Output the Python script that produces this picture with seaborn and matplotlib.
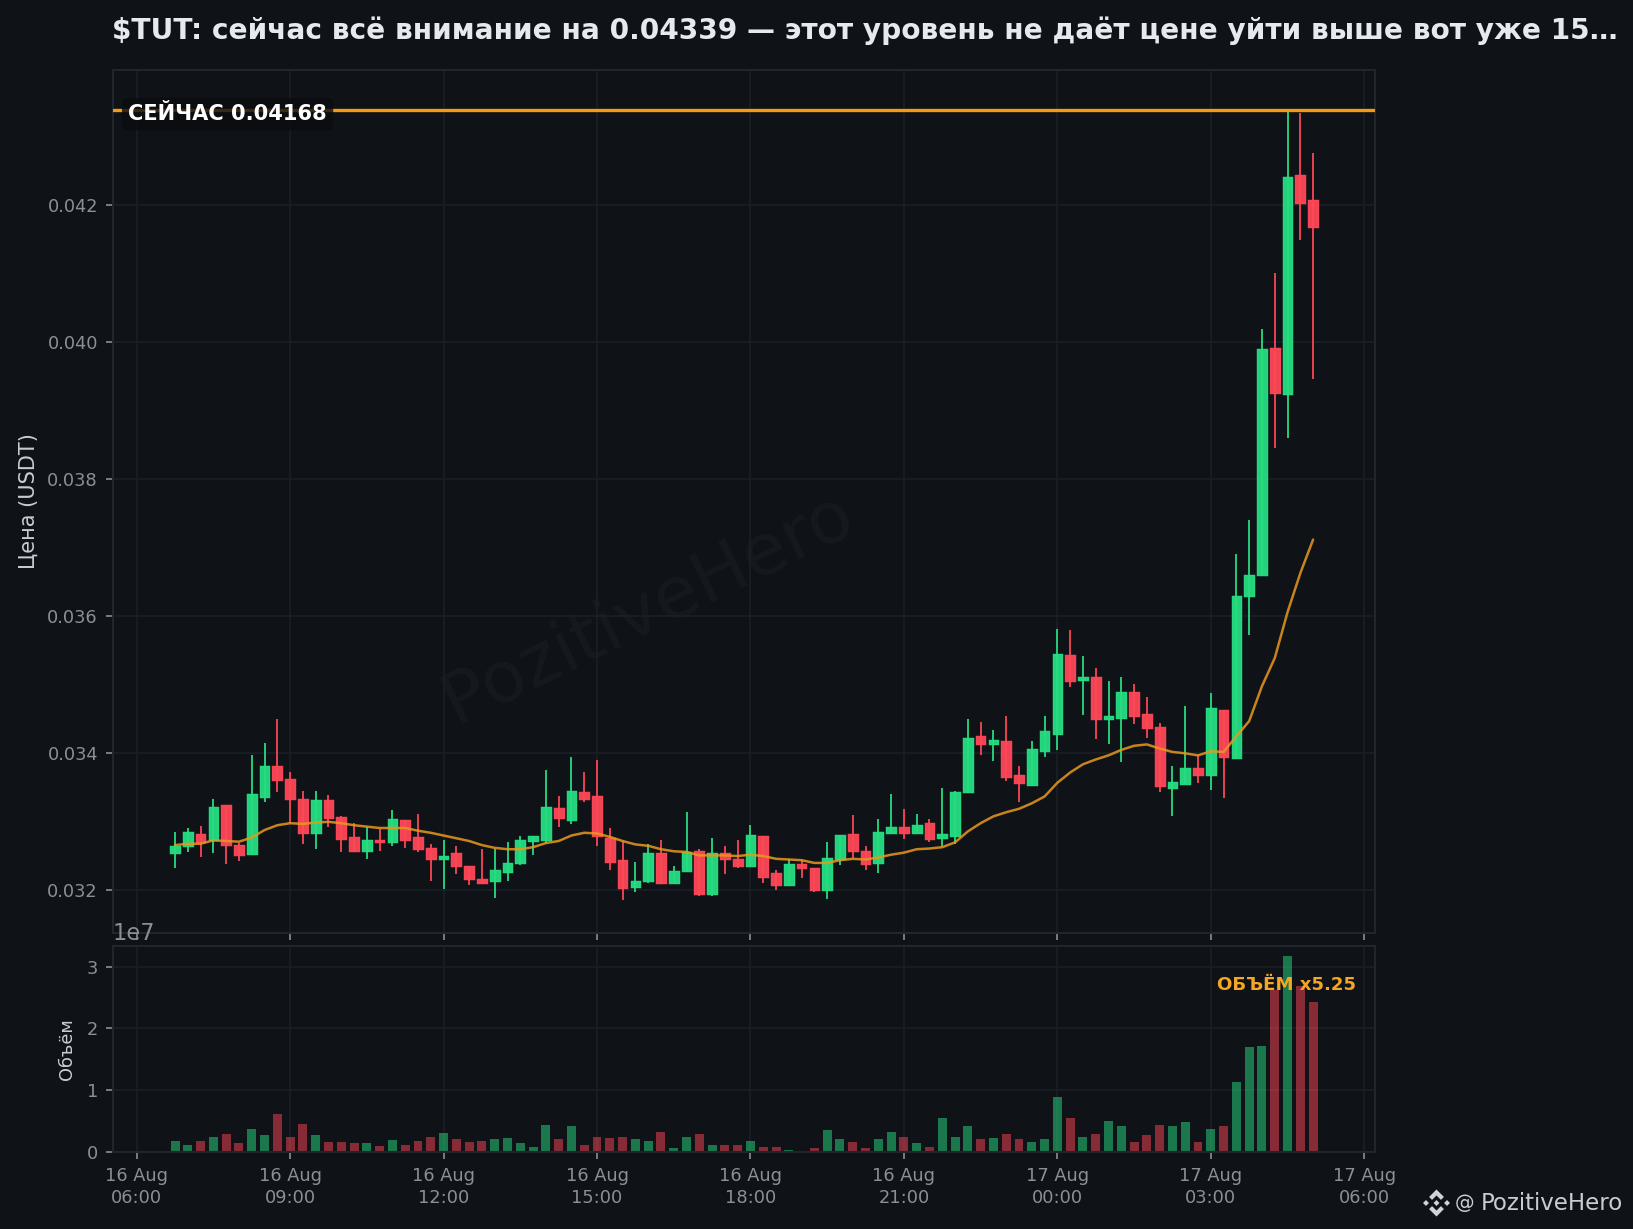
import numpy as np
import pandas as pd
import seaborn as sns
import matplotlib
matplotlib.use("Agg")
import matplotlib.pyplot as plt
import matplotlib.dates as mdates
from matplotlib.patches import Polygon

# 15m candles, 16 Aug 06:45 -> 17 Aug 05:00
open_prices = [
    0.03255, 0.03264, 0.03282, 0.03273, 0.03324, 0.03266, 0.03253, 0.03336, 0.03381, 0.03362,
    0.03334, 0.03284, 0.03332, 0.03307, 0.03278, 0.03258, 0.03273, 0.03271, 0.03302, 0.03278,
    0.03262, 0.03246, 0.03254, 0.03235, 0.03216, 0.03213, 0.03227, 0.03240, 0.03272, 0.03274,
    0.03320, 0.03303, 0.03343, 0.03337, 0.03276, 0.03244, 0.03205, 0.03213, 0.03254, 0.03210,
    0.03228, 0.03257, 0.03194, 0.03254, 0.03246, 0.03236, 0.03280, 0.03225, 0.03208, 0.03238,
    0.03232, 0.03201, 0.03246, 0.03282, 0.03258, 0.03240, 0.03283, 0.03292, 0.03283, 0.03299,
    0.03277, 0.03280, 0.03343, 0.03425, 0.03414, 0.03418, 0.03369, 0.03354, 0.03404, 0.03428,
    0.03543, 0.03507, 0.03511, 0.03450, 0.03451, 0.03489, 0.03457, 0.03439, 0.03349, 0.03355,
    0.03378, 0.03369, 0.03463, 0.03393, 0.03629, 0.03661, 0.03991, 0.03924, 0.04244, 0.04208,
]
high_prices = [
    0.03285, 0.03291, 0.03294, 0.03334, 0.03324, 0.03269, 0.03397, 0.03415, 0.03450, 0.03372,
    0.03345, 0.03345, 0.03339, 0.03308, 0.03299, 0.03293, 0.03290, 0.03317, 0.03302, 0.03312,
    0.03268, 0.03274, 0.03264, 0.03235, 0.03260, 0.03260, 0.03270, 0.03280, 0.03279, 0.03375,
    0.03337, 0.03394, 0.03372, 0.03390, 0.03291, 0.03272, 0.03242, 0.03267, 0.03274, 0.03236,
    0.03314, 0.03260, 0.03276, 0.03264, 0.03274, 0.03296, 0.03280, 0.03229, 0.03245, 0.03244,
    0.03232, 0.03270, 0.03281, 0.03310, 0.03264, 0.03304, 0.03340, 0.03318, 0.03312, 0.03304,
    0.03350, 0.03345, 0.03450, 0.03445, 0.03434, 0.03455, 0.03381, 0.03418, 0.03455, 0.03582,
    0.03580, 0.03542, 0.03525, 0.03505, 0.03512, 0.03501, 0.03482, 0.03444, 0.03382, 0.03469,
    0.03397, 0.03488, 0.03463, 0.03691, 0.03741, 0.04019, 0.04101, 0.04338, 0.04334, 0.04277,
]
low_prices = [
    0.03233, 0.03256, 0.03249, 0.03254, 0.03239, 0.03243, 0.03253, 0.03329, 0.03343, 0.03298,
    0.03268, 0.03261, 0.03293, 0.03256, 0.03256, 0.03245, 0.03257, 0.03265, 0.03262, 0.03256,
    0.03214, 0.03202, 0.03224, 0.03208, 0.03211, 0.03189, 0.03214, 0.03237, 0.03251, 0.03269,
    0.03293, 0.03297, 0.03329, 0.03264, 0.03230, 0.03186, 0.03198, 0.03210, 0.03210, 0.03210,
    0.03228, 0.03192, 0.03192, 0.03224, 0.03233, 0.03235, 0.03211, 0.03200, 0.03208, 0.03218,
    0.03198, 0.03188, 0.03237, 0.03247, 0.03230, 0.03226, 0.03283, 0.03275, 0.03283, 0.03271,
    0.03264, 0.03267, 0.03343, 0.03397, 0.03389, 0.03359, 0.03329, 0.03353, 0.03395, 0.03405,
    0.03497, 0.03456, 0.03421, 0.03413, 0.03388, 0.03443, 0.03423, 0.03343, 0.03309, 0.03355,
    0.03356, 0.03347, 0.03335, 0.03393, 0.03572, 0.03661, 0.03845, 0.03861, 0.04149, 0.03947,
]
close_prices = [
    0.03265, 0.03285, 0.03271, 0.03322, 0.03266, 0.03252, 0.03341, 0.03381, 0.03361, 0.03333,
    0.03284, 0.03332, 0.03305, 0.03275, 0.03258, 0.03274, 0.03270, 0.03304, 0.03274, 0.03261,
    0.03245, 0.03250, 0.03235, 0.03217, 0.03211, 0.03229, 0.03240, 0.03273, 0.03279, 0.03321,
    0.03305, 0.03345, 0.03334, 0.03279, 0.03242, 0.03204, 0.03213, 0.03254, 0.03210, 0.03228,
    0.03256, 0.03194, 0.03254, 0.03245, 0.03236, 0.03281, 0.03220, 0.03208, 0.03239, 0.03232,
    0.03201, 0.03247, 0.03281, 0.03258, 0.03239, 0.03285, 0.03292, 0.03283, 0.03296, 0.03275,
    0.03282, 0.03343, 0.03422, 0.03414, 0.03420, 0.03365, 0.03356, 0.03406, 0.03432, 0.03545,
    0.03506, 0.03511, 0.03450, 0.03454, 0.03490, 0.03455, 0.03437, 0.03352, 0.03358, 0.03378,
    0.03369, 0.03466, 0.03394, 0.03629, 0.03661, 0.03990, 0.03926, 0.04242, 0.04203, 0.04168,
]
ema_line = [
    0.03266, 0.03268, 0.03268, 0.03273, 0.03272, 0.03271, 0.03277, 0.03288, 0.03295, 0.03298,
    0.03297, 0.03299, 0.03300, 0.03298, 0.03295, 0.03293, 0.03291, 0.03291, 0.03291, 0.03287,
    0.03284, 0.03280, 0.03276, 0.03272, 0.03266, 0.03262, 0.03260, 0.03260, 0.03263, 0.03269,
    0.03272, 0.03280, 0.03284, 0.03283, 0.03278, 0.03272, 0.03267, 0.03265, 0.03260, 0.03257,
    0.03256, 0.03251, 0.03251, 0.03251, 0.03250, 0.03252, 0.03250, 0.03246, 0.03245, 0.03244,
    0.03240, 0.03240, 0.03244, 0.03246, 0.03245, 0.03248, 0.03252, 0.03255, 0.03260, 0.03261,
    0.03263, 0.03270, 0.03286, 0.03298, 0.03308, 0.03314, 0.03319, 0.03327, 0.03337, 0.03357,
    0.03372, 0.03384, 0.03391, 0.03397, 0.03405, 0.03411, 0.03413, 0.03407, 0.03402, 0.03400,
    0.03397, 0.03403, 0.03402, 0.03425, 0.03447, 0.03498, 0.03539, 0.03606, 0.03663, 0.03712,
]
# volume in units of 1e7
volume_1e7 = [
    0.17, 0.11, 0.17, 0.25, 0.29, 0.14, 0.37, 0.27, 0.61, 0.25,
    0.45, 0.27, 0.16, 0.16, 0.14, 0.14, 0.09, 0.19, 0.11, 0.17,
    0.24, 0.30, 0.21, 0.16, 0.17, 0.21, 0.22, 0.14, 0.08, 0.43,
    0.21, 0.42, 0.12, 0.24, 0.22, 0.24, 0.21, 0.17, 0.32, 0.06,
    0.25, 0.29, 0.12, 0.11, 0.11, 0.17, 0.08, 0.08, 0.03, 0.02,
    0.06, 0.35, 0.21, 0.16, 0.06, 0.21, 0.33, 0.25, 0.14, 0.08,
    0.55, 0.24, 0.42, 0.21, 0.22, 0.29, 0.21, 0.16, 0.21, 0.885,
    0.55, 0.25, 0.29, 0.50, 0.42, 0.16, 0.27, 0.43, 0.42, 0.48,
    0.16, 0.38, 0.42, 1.14, 1.695, 1.71, 2.62, 3.17, 2.68, 2.42,
]
level_price = 0.04339
title_text = "$TUT: сейчас всё внимание на 0.04339 — этот уровень не даёт цене уйти выше вот уже 15…"

BG = "#0f1217"
GREEN = "#26de81"
RED = "#ff4757"
GRID = "#1b2027"
SPINE = "#20262e"
TICK = "#8a8f98"
ORANGE = "#f39c12"

W, H = 1633, 1229
sns.set_style("dark", {"font.family": "DejaVu Sans"})

df = pd.DataFrame({
    "time": pd.date_range("2025-08-16 06:45", periods=90, freq="15min"),
    "open": open_prices, "high": high_prices, "low": low_prices, "close": close_prices,
    "ema": ema_line, "volume": np.array(volume_1e7) * 1e7,
})
df["x"] = mdates.date2num(df["time"])
df["side"] = np.where(df["close"] >= df["open"], "up", "down")
colors = df["side"].map({"up": GREEN, "down": RED})
step = 15 / 1440

fig = plt.figure(figsize=(W / 150, H / 150), dpi=150, facecolor=BG)
left, right = 112.5 / W, 1375 / W
ax = fig.add_axes([left, 1 - 933 / H, right - left, (933 - 70) / H], facecolor=BG)
ax_vol = fig.add_axes([left, 1 - 1152 / H, right - left, (1152 - 946) / H], facecolor=BG, sharex=ax)

# candles
ax.vlines(df["x"], df["low"], df["high"], colors=colors, linewidth=0.95, alpha=0.9, zorder=0.9)
body_low = df[["open", "close"]].min(axis=1)
body_h = (df["close"] - df["open"]).abs()
ax.bar(df["x"], body_h, bottom=body_low, width=step * 0.76, color=colors, edgecolor=colors,
       linewidth=0.7, alpha=0.95)
sns.lineplot(data=df, x="x", y="ema", ax=ax, color="#e8981e", linewidth=1.2, alpha=0.85,
             estimator=None, errorbar=None)
ax.axhline(level_price, color=ORANGE, linewidth=1.6, zorder=3)
ax.text(0.424, 0.376, "PozitiveHero", transform=ax.transAxes, rotation=26, fontsize=34.5,
        color="white", alpha=0.03, ha="center", va="center", zorder=0)
ax.text(0.0125, 0.949, "СЕЙЧАС 0.04168", transform=ax.transAxes, fontsize=10.1, fontweight="bold",
        color="white", ha="left", va="center", zorder=5,
        bbox=dict(boxstyle="round,pad=0.3", facecolor="#0a0c10", edgecolor="none", alpha=0.8))

# volume
sns.barplot(data=df, x="x", y="volume", hue="side", native_scale=True, dodge=False, width=0.7,
            palette={"up": GREEN, "down": RED}, alpha=0.5, saturation=1, legend=False,
            errorbar=None, edgecolor="none", linewidth=0, ax=ax_vol)
ax_vol.text(0.9846, 0.81, "ОБЪЁМ x5.25", transform=ax_vol.transAxes, fontsize=8.7, fontweight="bold",
            color="#f5a623", ha="right", va="center", zorder=5)

for a in (ax, ax_vol):
    a.grid(True, color=GRID, linewidth=0.8)
    for s in a.spines.values():
        s.set_color(SPINE)
        s.set_linewidth(1.0)
    a.tick_params(colors=TICK, labelsize=8.5, length=3.5, width=0.8, left=True, bottom=True)

ax.set_ylim(0.031377, 0.043975)
ax.set_yticks([0.032, 0.034, 0.036, 0.038, 0.040, 0.042])
ax.yaxis.set_major_formatter(plt.FormatStrFormatter("%.3f"))
ax.tick_params(labelbottom=False)
ax.set_xlabel("")
ax.set_ylabel("Цена (USDT)", color="#c9ccd3", fontsize=10)
ax.yaxis.set_label_coords(-0.0586, 0.5)
ax.set_title(title_text, loc="left", fontsize=13.45, fontweight="bold", color="#e6e9f0", pad=15)

ax_vol.set_ylim(0, 3.333e7)
ax_vol.yaxis.get_offset_text().set_color(TICK)
ax_vol.yaxis.get_offset_text().set_fontsize(10.8)
ax_vol.set_xlabel("")
ax_vol.set_ylabel("Объём", color="#c9ccd3", fontsize=8.5)
ax_vol.yaxis.set_label_coords(-0.0286, 0.5)

t0 = mdates.date2num(pd.Timestamp("2025-08-16 06:00"))
ax_vol.set_xlim(t0 - 1.89 * step, t0 + 96.84 * step)
ax_vol.xaxis.set_major_locator(mdates.HourLocator(byhour=range(0, 24, 3)))
ax_vol.xaxis.set_major_formatter(mdates.DateFormatter("%d %b\n%H:%M"))
plt.setp(ax_vol.get_xticklabels(), linespacing=1.3)

# signature with logo
fig.text(1455 / W, 1 - 1203 / H, "@", color="#c8ccd4", fontsize=9.5, ha="left", va="center")
fig.text(1481 / W, 1 - 1203 / H, "PozitiveHero", color="#c8ccd4", fontsize=11, ha="left", va="center")
logo_shapes = [
    [(0, 1), (0.55, 0.45), (0.33, 0.23), (0, 0.56), (-0.33, 0.23), (-0.55, 0.45)],
    [(0, -1), (0.55, -0.45), (0.33, -0.23), (0, -0.56), (-0.33, -0.23), (-0.55, -0.45)],
    [(-1, 0), (-0.78, 0.22), (-0.56, 0), (-0.78, -0.22)],
    [(1, 0), (0.78, 0.22), (0.56, 0), (0.78, -0.22)],
    [(0, 0.22), (0.22, 0), (0, -0.22), (-0.22, 0)],
]
for shape in logo_shapes:
    pts = [((1436.5 + 13.5 * px) / W, 1 - (1203 - 13.5 * py) / H) for px, py in shape]
    fig.add_artist(Polygon(pts, closed=True, transform=fig.transFigure, facecolor="#d0d4da", edgecolor="none"))

fig.savefig("out.png", dpi=150, facecolor=BG)
